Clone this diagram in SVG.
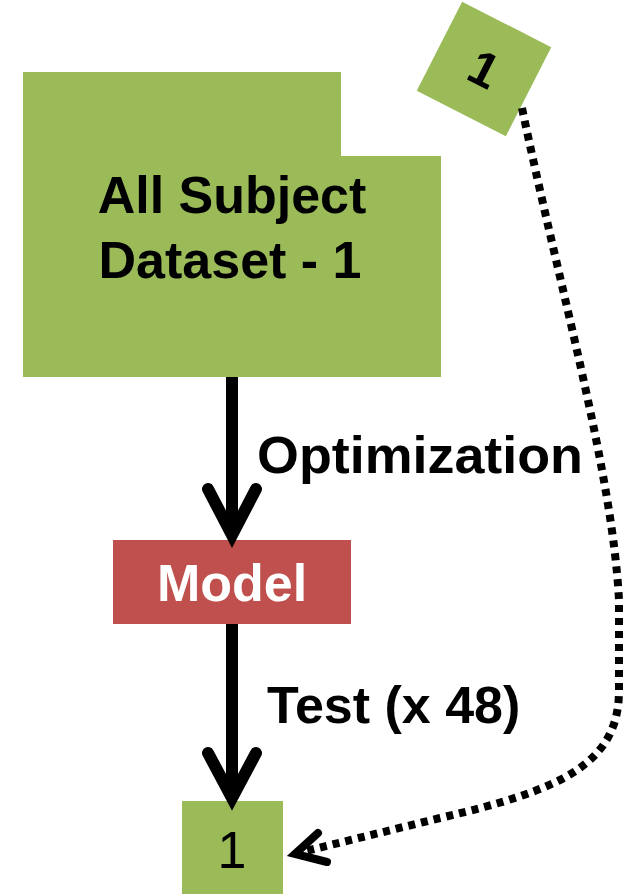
<svg xmlns="http://www.w3.org/2000/svg" width="624" height="894" viewBox="0 0 624 894">
  <style>
    .green { fill: #9BBB59; }
    .red { fill: #C0504D; }
    .lbl { font-family: "Liberation Sans", Arial, sans-serif; font-weight: bold; font-size: 52px; fill: #000; }
    .shaft { fill: none; stroke: #000; stroke-width: 12; stroke-linecap: butt; }
    .solid { fill: none; stroke: #000; stroke-width: 12; stroke-linecap: round; stroke-linejoin: miter; }
    .dotted { fill: none; stroke: #000; stroke-width: 8; stroke-dasharray: 7 6; }
    .head { fill: none; stroke: #000; stroke-width: 8; stroke-linecap: round; stroke-linejoin: miter; }
  </style>
  <rect width="624" height="894" fill="#fff"/>

  <!-- dataset folder shape -->
  <g id="dataset">
    <path class="green" d="M23,72 H341 V156 H441 V377 H23 Z"/>
    <text class="lbl" x="232" y="213" text-anchor="middle">All Subject</text>
    <text class="lbl" x="230" y="278" text-anchor="middle">Dataset - 1</text>
  </g>

  <!-- tilted tag -->
  <g id="tag" transform="translate(484,69) rotate(27)">
    <rect class="green" x="-50" y="-50" width="100" height="100"/>
    <text class="lbl" x="0" y="17" text-anchor="middle" style="font-size:49px">1</text>
  </g>

  <!-- model -->
  <g id="model">
    <rect class="red" x="113" y="540" width="238" height="84"/>
    <text class="lbl" x="232" y="601" text-anchor="middle" style="fill:#fff">Model</text>
  </g>

  <!-- result -->
  <g id="result">
    <rect class="green" x="182" y="801" width="101" height="93"/>
    <text x="232" y="868" text-anchor="middle" font-family="'Liberation Sans', Arial, sans-serif" font-size="52">1</text>
  </g>

  <!-- connectors -->
  <g id="connectors">
    <line class="shaft" x1="232" y1="377" x2="232" y2="528"/>
    <polyline class="solid" points="208,489 232,535 256,489"/>
    <line class="shaft" x1="232" y1="624" x2="232" y2="792"/>
    <polyline class="solid" points="208,753 232,798 256,753"/>

    <path class="dotted" d="M522,108 C560,290 612,470 619,600 L619,690 C619,765 560,790 440,818 L306,851"/>
    <polyline class="head" points="318,833 295,854 327,862"/>
  </g>

  <!-- edge labels -->
  <g id="labels">
    <text class="lbl" x="257" y="473" textLength="326" lengthAdjust="spacingAndGlyphs">Optimization</text>
    <text class="lbl" x="267" y="723">Test (x 48)</text>
  </g>
</svg>
